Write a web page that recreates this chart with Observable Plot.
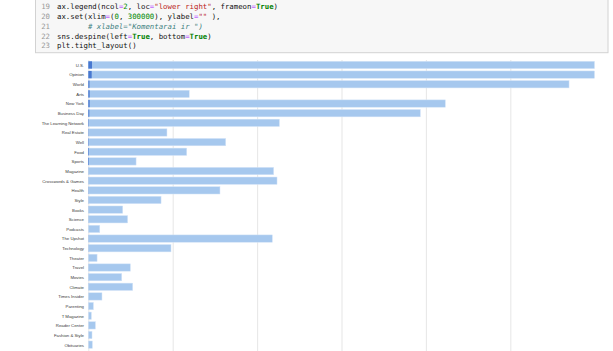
<!DOCTYPE html>
<html>
<head>
<meta charset="utf-8">
<script src="https://cdn.jsdelivr.net/npm/d3@7"></script>
<script src="https://cdn.jsdelivr.net/npm/@observablehq/plot@0.6"></script>
<style>
  html, body { margin: 0; padding: 0; background: #fff; width: 613px; height: 351px; overflow: hidden; position: relative; }
  #cell { position: absolute; left: 0; top: 0; }
  #cell text { font-family: "DejaVu Sans Mono", "Liberation Mono", monospace; font-size: 7.35px; white-space: pre; }
  .ln { fill: #999; }
  .code { fill: #111; }
  .kw { fill: #008000; font-weight: bold; }
  .st { fill: #ba2121; }
  .nu { fill: #008800; }
  .op { fill: #aa22ff; }
  .cm { fill: #408080; font-style: italic; }
  #chart { position: absolute; left: 0; top: 55px; }
</style>
</head>
<body>
<svg id="cell" width="613" height="55" xmlns="http://www.w3.org/2000/svg">
  <rect x="35.5" y="-2" width="572.5" height="54.7" fill="#f7f7f7" stroke="#d2d2d2" stroke-width="1"></rect>
</svg>
<div id="chart"></div>
<script>
const categories = ["U.S.", "Opinion", "World", "Arts", "New York", "Business Day", "The Learning Network", "Real Estate", "Well", "Food", "Sports", "Magazine", "Crosswords & Games", "Health", "Style", "Books", "Science", "Podcasts", "The Upshot", "Technology", "Theater", "Travel", "Movies", "Climate", "Times Insider", "Parenting", "T Magazine", "Reader Center", "Fashion & Style", "Obituaries"];
const totalValues = [300000, 300000, 284800, 59800, 211500, 196700, 113200, 46600, 81400, 58300, 28300, 109800, 111800, 78000, 43100, 20400, 23300, 6800, 109000, 49000, 5200, 24900, 19800, 26300, 8100, 3000, 1800, 4200, 2200, 2400];
const darkValues = [2200, 2000, 700, 800, 800, 600, 300, 200, 300, 400, 400, 100, 100, 150, 100, 80, 80, 30, 100, 80, 30, 60, 60, 60, 30, 20, 10, 20, 20, 20];
const xTicks = [0, 50000, 100000, 150000, 200000, 250000];

// code cell text (token lists: [class, text])
const lineNumbers = ["19", "20", "21", "22", "23"];
const codeLines = [
  [["", "ax.legend(ncol"], ["op", "="], ["nu", "2"], ["", ", loc"], ["op", "="], ["st", "\"lower right\""], ["", ", frameon"], ["op", "="], ["kw", "True"], ["", ")"]],
  [["", "ax.set(xlim"], ["op", "="], ["", "("], ["nu", "0"], ["", ", "], ["nu", "300000"], ["", "), ylabel"], ["op", "="], ["st", "\"\""], ["", " ),"]],
  [["", "       "], ["cm", "# xlabel=\"Komentarai ir \")"]],
  [["", "sns.despine(left"], ["op", "="], ["kw", "True"], ["", ", bottom"], ["op", "="], ["kw", "True"], ["", ")"]],
  [["", "plt.tight_layout()"]]
];

const NS = "http://www.w3.org/2000/svg";
const cellSvg = document.getElementById("cell");
const charW = 4.42;
lineNumbers.forEach((n, i) => {
  const y = 9.3 + i * 9.75;
  const ln = document.createElementNS(NS, "text");
  ln.setAttribute("class", "ln");
  ln.setAttribute("x", 50);
  ln.setAttribute("y", y);
  ln.setAttribute("text-anchor", "end");
  ln.textContent = n;
  cellSvg.appendChild(ln);
  // strip leading spaces into an x offset
  const toks = codeLines[i].slice();
  let indent = 0;
  if (toks[0][0] === "" && /^ +$/.test(toks[0][1])) { indent = toks[0][1].length; toks.shift(); }
  const nChars = toks.reduce((s, t) => s + t[1].length, 0);
  const t = document.createElementNS(NS, "text");
  t.setAttribute("class", "code");
  t.setAttribute("x", 57 + indent * charW);
  t.setAttribute("y", y);
  t.setAttribute("textLength", (nChars * charW).toFixed(2));
  t.setAttribute("lengthAdjust", "spacingAndGlyphs");
  toks.forEach(([cls, txt]) => {
    const s = document.createElementNS(NS, "tspan");
    if (cls) s.setAttribute("class", cls);
    s.textContent = txt;
    t.appendChild(s);
  });
  cellSvg.appendChild(t);
});

const rows = categories.map((c, i) => ({cat: c, total: totalValues[i], dark: darkValues[i]}));

const chart = Plot.plot({
  width: 613,
  height: 300,
  marginLeft: 88.3,
  marginRight: 18.3,
  marginTop: 5,
  marginBottom: 0,
  x: {domain: [0, 300000], axis: null},
  y: {domain: categories, range: [5.14, 294.49], round: false, paddingInner: 0.24, paddingOuter: 0.12, label: null, tickSize: 0, tickPadding: 4.8},
  style: {fontFamily: "'Liberation Sans', Arial, sans-serif", fontSize: "4.3px", color: "#3a3a3a", background: "transparent", overflow: "visible"},
  marks: [
    Plot.ruleX(xTicks, {stroke: "#e8e8e8", strokeWidth: 1.1}),
    Plot.barX(rows, {x: "total", y: "cat", fill: "#a6c8ee", stroke: "#d4e4f7", strokeWidth: 0.5, clip: true}),
    Plot.barX(rows, {x: "dark", y: "cat", fill: "#4878d0"})
  ]
});
document.getElementById("chart").appendChild(chart);
</script>
</body>
</html>
